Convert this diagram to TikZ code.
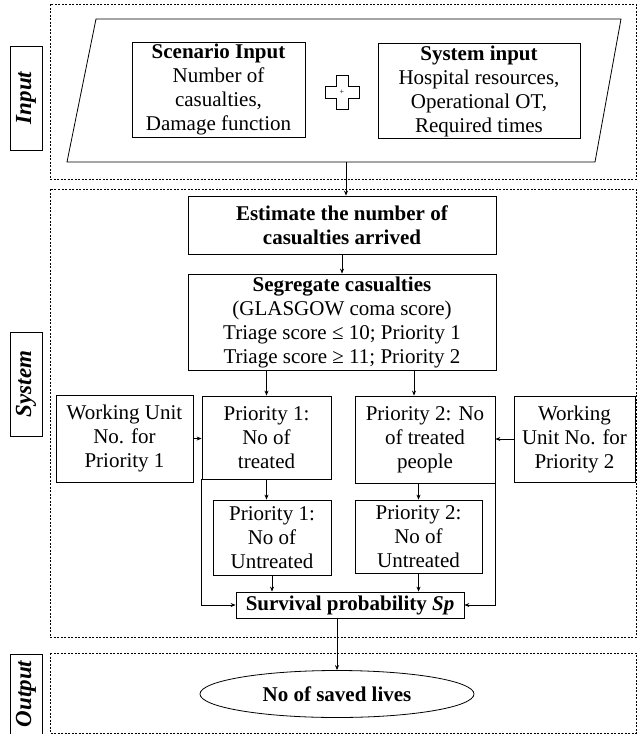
\documentclass[tikz,border=0pt]{standalone}
\usepackage{fontspec}
\setmainfont{Liberation Serif}
\usetikzlibrary{shapes.geometric,arrows.meta}

\begin{document}
\begin{tikzpicture}
  [x=1pt,y=-1pt,
   font=\fontsize{21}{24}\selectfont,
   box/.style={draw,line width=.8pt,align=center,inner sep=2pt},
   part/.style={draw,dash pattern=on 2pt off 1.5pt,line width=.6pt},
   tag/.style={draw,line width=.6pt,rotate=90,inner sep=0pt,
     minimum height=32pt,font=\fontsize{23}{26}\selectfont\bfseries\itshape},
   arr/.style={-{Stealth[length=5pt,width=4pt]},line width=.7pt}]
  \useasboundingbox (0,0) rectangle (638,734);

  % the three parts
  \draw[part] (50,4) rectangle (636,179);
  \draw[part] (50,189) rectangle (636,637);
  \draw[part] (50,653) rectangle (636,733);
  \node[tag,minimum width=104pt] (tin) at (26,98) {Input};
  \node[tag,minimum width=104pt] (tsys) at (26,384) {System};
  \node[tag,minimum width=80pt] (tout) at (26,694) {Output};

  % input
  \draw[line width=.8pt] (96,19) -- (621,19) -- (595,162) -- (67,162) -- cycle;
  \coordinate (inbot) at (346,162);
  \node[box,minimum width=173pt,minimum height=93pt] (scen) at (218.5,89.5)
    {\textbf{Scenario Input}\\Number of\\casualties,\\Damage function};
  \node[box,minimum width=202pt,minimum height=90pt] (sysin) at (479,91)
    {\textbf{System input}\\Hospital resources,\\Operational OT,\\Required times};
  \node[inner sep=0pt,font=\footnotesize] (plus) at (342,92) {+};
  \draw[line width=.6pt] (336,75) -- (348,75) -- (348,86) -- (359,86) -- (359,98)
    -- (348,98) -- (348,109) -- (336,109) -- (336,98) -- (325,98) -- (325,86)
    -- (336,86) -- cycle;

  % system
  \node[box,minimum width=308pt,minimum height=58pt] (est) at (342,225)
    {\textbf{Estimate the number of}\\\textbf{casualties arrived}};
  \node[box,minimum width=308pt,minimum height=96pt] (seg) at (342,322)
    {\textbf{Segregate casualties}\\(GLASGOW coma score)\\Triage score ≤ 10; Priority 1\\Triage score ≥ 11; Priority 2};
  \node[box,minimum width=137pt,minimum height=87pt] (wu1) at (124.5,438.5)
    {Working Unit\\No. for\\Priority 1};
  \node[box,minimum width=129pt,minimum height=83pt] (p1t) at (266.5,437.5)
    {Priority 1:\\No of\\treated};
  \node[box,minimum width=140pt,minimum height=87pt] (p2t) at (425,439.5)
    {Priority 2: No\\of treated\\people};
  \node[box,minimum width=121pt,minimum height=86pt] (wu2) at (574.5,439)
    {Working\\Unit No. for\\Priority 2};
  \node[box,minimum width=118pt,minimum height=75pt] (p1u) at (272,537.5)
    {Priority 1:\\No of\\Untreated};
  \node[box,minimum width=127pt,minimum height=73pt] (p2u) at (418.5,536.5)
    {Priority 2:\\No of\\Untreated};
  \node[box,minimum width=228pt,minimum height=26pt,inner sep=0pt] (surv) at (350,605)
    {\textbf{Survival probability \textit{Sp}}};

  % output
  \node[box,ellipse,minimum width=274pt,minimum height=47pt,inner sep=0pt] (saved) at (337,694)
    {\textbf{No of saved lives}};

  \draw[arr] (inbot) -- (inbot |- est.north);
  \draw[arr] (seg.south |- est.south) -- (seg.north);
  \draw[arr] (seg.south -| p1t.north) -- (p1t.north);
  \draw[arr] ([xshift=-11pt]p2t.north |- seg.south) -- ([xshift=-11pt]p2t.north);
  \draw[arr] (wu1.east) -- (wu1.east -| p1t.west);
  \draw[arr] (wu2.west) -- (wu2.west -| p2t.east);
  \draw[arr] (p1t.south) -- (p1t.south |- p1u.north);
  \draw[arr] (p2u.north |- p2t.south) -- (p2u.north);

  \foreach \from/\to in {p1u/surv,p2u/surv}
    \draw[arr] (\from.south) -- (\from.south |- \to.north);

  \draw[arr] (p1t.south west) |- (surv.west);
  \draw[arr] (p2t.south east) |- (surv.east);
  \draw[arr] (saved.north |- surv.south) -- (saved.north);

\end{tikzpicture}
\end{document}
